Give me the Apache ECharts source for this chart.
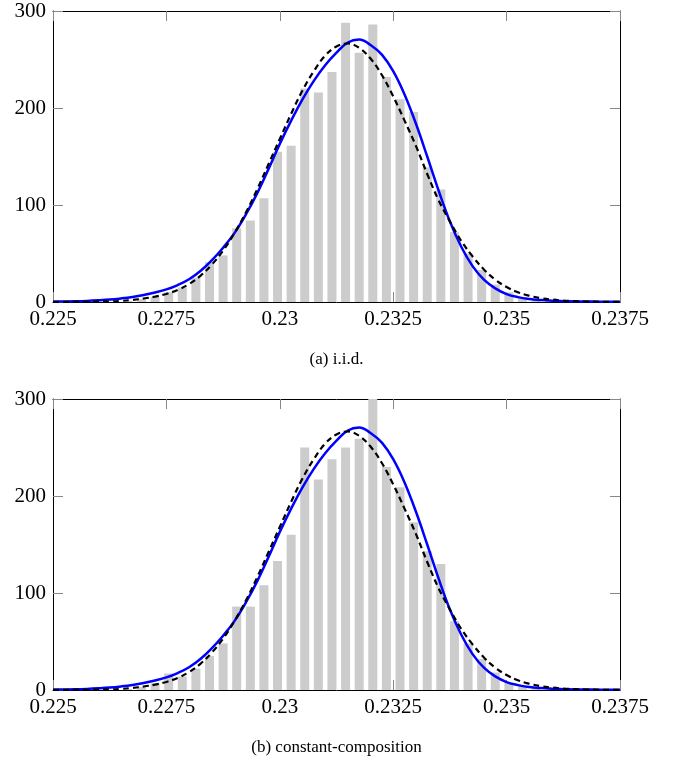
<!DOCTYPE html>
<html>
<head>
<meta charset="utf-8">
<script src="https://cdn.jsdelivr.net/npm/echarts@6/dist/echarts.min.js"></script>
<style>
  html, body { margin: 0; padding: 0; background: #fff; }
  #main { width: 673px; height: 762px; }
</style>
</head>
<body>
<div id="main"></div>
<script>
// bin centers (width 0.0003)
var binCenters = [0.22515, 0.22545, 0.22575, 0.22605, 0.22635, 0.22665, 0.22695, 0.22725, 0.22755, 0.22785,
  0.22815, 0.22845, 0.22875, 0.22905, 0.22935, 0.22965, 0.22995, 0.23025, 0.23055, 0.23085,
  0.23115, 0.23145, 0.23175, 0.23205, 0.23235, 0.23265, 0.23295, 0.23325, 0.23355, 0.23385,
  0.23415, 0.23445, 0.23475, 0.23505, 0.23535, 0.23565, 0.23595, 0.23625, 0.23655, 0.23685,
  0.23715, 0.23745];

// (a) i.i.d. histogram
var countsIid = [0, 0, 0, 0, 0, 1, 3, 5, 10, 15,
  25, 41, 48, 76, 84, 107, 155, 161, 220, 216,
  237, 288, 257, 286, 232, 209, 196, 139, 116, 72,
  50, 33, 18, 10, 5, 2, 1, 0, 1, 1,
  0, 0];

// (b) constant-composition histogram
var countsCc = [0, 0, 0, 0, 0, 1, 3, 7, 17, 14,
  22, 35, 48, 86, 86, 108, 133, 160, 250, 217,
  238, 250, 259, 301, 230, 209, 173, 143, 130, 71,
  48, 32, 18, 8, 4, 2, 1, 0, 1, 1,
  0, 0];

// x positions where both curves were read
var curveX = [0.225, 0.22525, 0.2255, 0.22575, 0.226, 0.22625, 0.2265, 0.22675, 0.227, 0.22725,
  0.2275, 0.22775, 0.228, 0.22825, 0.2285, 0.22875, 0.229, 0.22925, 0.2295, 0.22975,
  0.23, 0.23025, 0.2305, 0.23075, 0.231, 0.23125, 0.2315, 0.23175, 0.232, 0.23225,
  0.2325, 0.23275, 0.233, 0.23325, 0.2335, 0.23375, 0.234, 0.23425, 0.2345, 0.23475,
  0.235, 0.23525, 0.2355, 0.23575, 0.236, 0.23625, 0.2365, 0.23675, 0.237, 0.23725,
  0.2375];

// blue solid curve
var blueY = [0.4, 0.5, 0.7, 1.1, 1.7, 2.5, 3.7, 5.2, 7.2, 9.8,
  13, 17.5, 23.5, 32, 43, 56, 71, 90, 112, 137,
  163, 187, 209, 228, 244, 257, 267.5, 270.5, 265, 255,
  238, 214, 184, 150, 115, 83, 57, 37, 23, 14,
  8.2, 5, 3.1, 2, 1.3, 0.9, 0.6, 0.45, 0.35, 0.3,
  0.25];

// black dashed curve
var dashY = [0, 0.05, 0.1, 0.2, 0.35, 0.6, 1.1, 2.2, 3.6, 5.6,
  8.3, 12.5, 18.5, 27, 38.5, 53, 71, 92, 116, 142,
  168, 194, 218, 238, 254, 263.5, 266.5, 262, 251, 234,
  212, 187, 161, 132, 105, 83, 63, 47, 33.5, 23,
  15.5, 10, 6.5, 4, 2.5, 1.5, 0.9, 0.5, 0.3, 0.15,
  0.1];

var xTicks = ['0.225', '0.2275', '0.23', '0.2325', '0.235', '0.2375'];
var yTicks = ['0', '100', '200', '300'];
var captions = ['(a) i.i.d.', '(b) constant-composition'];

function pairs(xs, ys) {
  return xs.map(function (x, i) { return [x, ys[i]]; });
}

var serif = '"Liberation Serif", "DejaVu Serif", serif';
var tickColor = '#888';

function xAx(grid, pos, showLabel) {
  return {
    type: 'value', gridIndex: grid, position: pos,
    min: 0.225, max: 0.2375, interval: 0.0025,
    axisLine: { show: true, onZero: false, lineStyle: { color: '#000', width: 1 } },
    axisTick: { show: true, inside: true, length: 10, lineStyle: { color: tickColor } },
    splitLine: { show: false },
    axisLabel: {
      show: showLabel, margin: 7, color: '#000', fontFamily: serif, fontSize: 21,
      formatter: function (v) { return xTicks[Math.round((v - 0.225) / 0.0025)]; }
    }
  };
}

function yAx(grid, pos, showLabel) {
  return {
    type: 'value', gridIndex: grid, position: pos,
    min: 0, max: 300, interval: 100,
    axisLine: { show: true, lineStyle: { color: '#000', width: 1 } },
    axisTick: { show: true, inside: true, length: 10, lineStyle: { color: tickColor } },
    splitLine: { show: false },
    axisLabel: {
      show: showLabel, margin: 7, color: '#000', fontFamily: serif, fontSize: 21,
      formatter: function (v) { return yTicks[Math.round(v / 100)]; }
    }
  };
}

function panelSeries(grid, counts) {
  var xi = grid * 2, yi = grid * 2;
  return [
    {
      type: 'bar', xAxisIndex: xi, yAxisIndex: yi,
      data: pairs(binCenters, counts),
      barWidth: 9,
      itemStyle: { color: '#cccccc' },
      silent: true
    },
    {
      type: 'line', xAxisIndex: xi, yAxisIndex: yi,
      data: pairs(curveX, blueY), smooth: 0.4, symbol: 'none',
      lineStyle: { color: '#0000ff', width: 2.5 }
    },
    {
      type: 'line', xAxisIndex: xi, yAxisIndex: yi,
      data: pairs(curveX, dashY), smooth: 0.4, symbol: 'none',
      lineStyle: { color: '#000', width: 2.2, type: [6, 4] }
    }
  ];
}

var myChart = echarts.init(document.getElementById('main'));

var option = {
  animation: false,
  backgroundColor: '#fff',
  title: [
    { text: captions[0], left: 'center', top: 346, textStyle: { fontFamily: serif, fontSize: 17, fontWeight: 'normal', color: '#000' } },
    { text: captions[1], left: 'center', top: 734, textStyle: { fontFamily: serif, fontSize: 17, fontWeight: 'normal', color: '#000' } }
  ],
  grid: [
    { left: 53, right: 53, top: 11, height: 291 },
    { left: 53, right: 53, top: 399, height: 291 }
  ],
  xAxis: [xAx(0, 'bottom', true), xAx(0, 'top', false), xAx(1, 'bottom', true), xAx(1, 'top', false)],
  yAxis: [yAx(0, 'left', true), yAx(0, 'right', false), yAx(1, 'left', true), yAx(1, 'right', false)],
  series: panelSeries(0, countsIid).concat(panelSeries(1, countsCc))
};

myChart.setOption(option);
</script>
</body>
</html>
